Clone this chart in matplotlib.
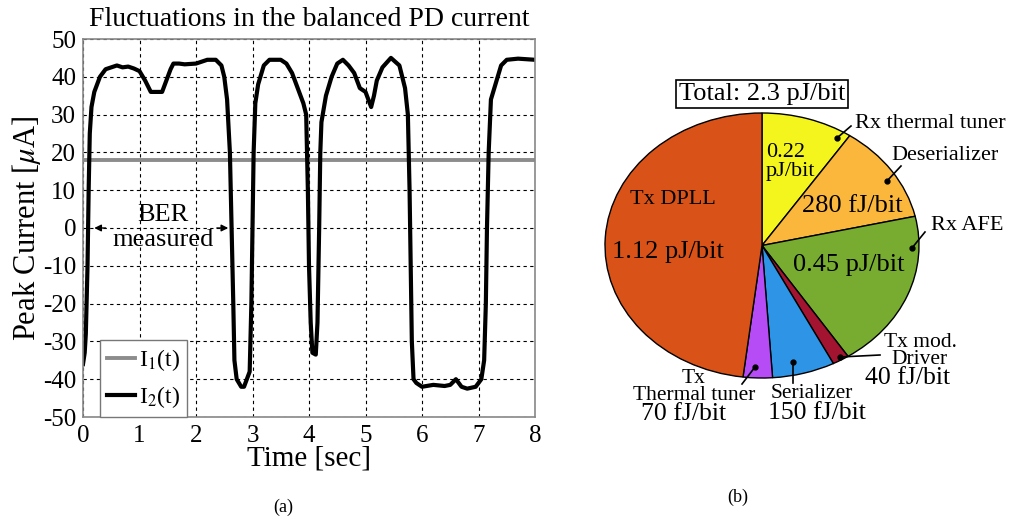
import numpy as np
import matplotlib
matplotlib.use("Agg")
import matplotlib.pyplot as plt

plt.rcParams['font.family'] = ['Liberation Serif', 'DejaVu Serif']
plt.rcParams['mathtext.fontset'] = 'stix'
plt.rcParams['axes.unicode_minus'] = False

### data for panel (a): balanced PD current
t = [0.0, 0.03, 0.05, 0.08, 0.10, 0.12, 0.15, 0.2, 0.3, 0.4, 0.5, 0.6, 0.7, 0.8, 0.9,
     1.0, 1.1, 1.2, 1.3, 1.4, 1.45, 1.55, 1.6, 1.7, 1.8, 2.0, 2.2, 2.35, 2.45, 2.5,
     2.55, 2.6, 2.63, 2.66, 2.68, 2.72, 2.8, 2.85, 2.9, 2.95, 2.98, 3.0, 3.02, 3.05,
     3.1, 3.2, 3.3, 3.5, 3.6, 3.7, 3.8, 3.9, 3.95, 3.98, 4.0, 4.03, 4.06, 4.12, 4.15,
     4.18, 4.2, 4.22, 4.3, 4.4, 4.5, 4.6, 4.7, 4.8, 4.9, 5.0, 5.05, 5.1, 5.15, 5.2,
     5.3, 5.45, 5.6, 5.7, 5.75, 5.78, 5.8, 5.82, 5.85, 5.9, 6.0, 6.2, 6.4, 6.5, 6.6,
     6.7, 6.8, 6.95, 7.05, 7.1, 7.13, 7.15, 7.18, 7.22, 7.3, 7.4, 7.5, 7.7, 8.0]
i2 = [-36, -33, -28, -10, 10, 25, 32, 36, 40, 42, 42.5, 43, 42.5, 42.7, 42.2,
      41.5, 39, 36, 36, 36, 38, 42, 43.5, 43.5, 43.3, 43.5, 44.5, 44.5, 43, 40,
      34, 20, 0, -20, -35, -40, -42, -42, -40, -38, -20, 0, 20, 33,
      38, 43, 44.5, 44.5, 43.5, 41, 37, 33, 30, 10, -10, -25, -33, -33.5, -25,
      0, 20, 28, 35, 40, 43.5, 44.5, 43, 41, 37, 36, 34, 32, 35, 39,
      42.5, 45, 43, 37, 30, 10, -10, -30, -40, -41, -42, -41.5, -41.8, -41.5, -40,
      -42, -42.5, -42, -40, -35, -20, 0, 20, 34, 38, 43, 44.5, 44.8, 44.5]
i1_level = 18

### data for panel (b): energy breakdown (pJ/bit)
parts = ['Rx thermal tuner', 'Deserializer', 'Rx AFE', 'Tx mod. Driver',
         'Serializer', 'Tx Thermal tuner', 'Tx DPLL']
energy = [0.22, 0.28, 0.45, 0.04, 0.15, 0.07, 1.12]
colors = ['#F5F51E', '#FBB73C', '#77AC30', '#A2142F', '#2E95E6', '#B64CF6', '#D95319']

W, H = 1009, 523
fig = plt.figure(figsize=(W / 100, H / 100), dpi=100)

### panel (a)
ax = fig.add_axes([83 / W, 1 - 417 / H, 452 / W, 378 / H])
ax.plot([0, 8], [i1_level, i1_level], color='#8c8c8c', lw=2.8, label='I$_1$(t)')
ax.plot(t, i2, color='black', lw=3.0, label='I$_2$(t)')
ax.set_xlim(0, 8)
ax.set_ylim(-50, 50)
ax.set_xticks(range(0, 9))
ax.set_yticks(range(-50, 51, 10))
ax.grid(True, color='black', linestyle=(0, (3, 3)), lw=0.8)
ax.tick_params(length=0, labelsize=18)
ax.tick_params(axis='x', pad=6)
ax.tick_params(axis='y', pad=5)
for s in ax.spines.values():
    s.set_color('#888888')
    s.set_linewidth(1.2)
ax.set_title('Fluctuations in the balanced PD current', fontsize=20, pad=9)
ax.set_xlabel('Time [sec]', fontsize=21, labelpad=-1)
ax.set_ylabel(r'Peak Current [$\mu$A]', fontsize=22, labelpad=0)

ax.text(1.42, 0.2, 'BER\nmeasured', ha='center', va='center', fontsize=19,
        linespacing=1.15)
ax.annotate('', xy=(0.15, 0), xytext=(0.45, 0),
            arrowprops=dict(arrowstyle='-|>', lw=1, color='black', mutation_scale=10))
ax.annotate('', xy=(2.62, 0), xytext=(2.32, 0),
            arrowprops=dict(arrowstyle='-|>', lw=1, color='black', mutation_scale=10))

leg = ax.legend(loc='lower left', bbox_to_anchor=(0.037, 0.0), borderaxespad=0,
                fontsize=17, handlelength=1.2, handletextpad=0.15, fancybox=False,
                framealpha=1, edgecolor='#777777', labelspacing=0.45, borderpad=0.3)
leg.get_frame().set_linewidth(1.0)

fig.text(283 / W, 1 - 507 / H, '(a)', ha='center', va='center', fontsize=13)

### panel (b)
cx, cy, rx, ry = 762, 245.5, 157, 132.5
bx = fig.add_axes([(cx - rx) / W, 1 - (cy + ry) / H, 2 * rx / W, 2 * ry / H])
bx.pie(energy, colors=colors, startangle=90, counterclock=False,
       wedgeprops=dict(edgecolor='black', linewidth=1.0))
bx.set_aspect('auto')
bx.set_xlim(-1, 1)
bx.set_ylim(-1, 1)
bx.axis('off')

def d(px, py):
    return ((px - cx) / rx, (cy - py) / ry)

fs = 16
bx.text(*d(762, 94), 'Total: 2.3 pJ/bit', ha='center', va='center', fontsize=19,
        bbox=dict(boxstyle='square,pad=0.1', fc='white', ec='black', lw=1.2),
        clip_on=False)
bx.text(*d(766, 162), '0.22\npJ/bit', ha='left', va='center', fontsize=fs,
        linespacing=0.95)
bx.text(*d(852, 206), '280 fJ/bit', ha='center', va='center', fontsize=19)
bx.text(*d(673, 200), 'Tx DPLL', ha='center', va='center', fontsize=16)
bx.text(*d(668, 252), '1.12 pJ/bit', ha='center', va='center', fontsize=19)
bx.text(*d(849, 265), '0.45 pJ/bit', ha='center', va='center', fontsize=19)

# callouts: (dot, line end, [(x, y, text, size), ...], alignment)
callouts = [
    ((837, 138), (851, 126), [(855, 123, 'Rx thermal tuner', 16)], 'left'),
    ((887, 181), (901, 166), [(945, 156, 'Deserializer', 16)], 'center'),
    ((912, 248), (925, 232), [(967, 226, 'Rx AFE', 16)], 'center'),
    ((840, 357), (880, 355), [(920, 351, 'Tx mod.\nDriver', 15.5),
                              (908, 378, '40 fJ/bit', 18.5)], 'center'),
    ((793, 362), (793, 383), [(812, 393, 'Serializer', 15.5),
                              (817, 413, '150 fJ/bit', 18.5)], 'center'),
    ((755, 367), (742, 384), [(694, 387, 'Tx\nThermal tuner', 15.5),
                              (684, 414, '70 fJ/bit', 18.5)], 'center'),
]
for dot, end, lines, ha in callouts:
    bx.plot(*zip(d(*dot), d(*end)), color='black', lw=1.2, clip_on=False)
    bx.plot(*d(*dot), 'o', color='black', ms=3.5, clip_on=False)
    for px, py, label, size in lines:
        bx.text(*d(px, py), label, ha=ha, va='center', fontsize=size,
                linespacing=0.85, clip_on=False)

fig.text(738 / W, 1 - 497 / H, '(b)', ha='center', va='center', fontsize=13)

fig.savefig('out.png', dpi=100)
